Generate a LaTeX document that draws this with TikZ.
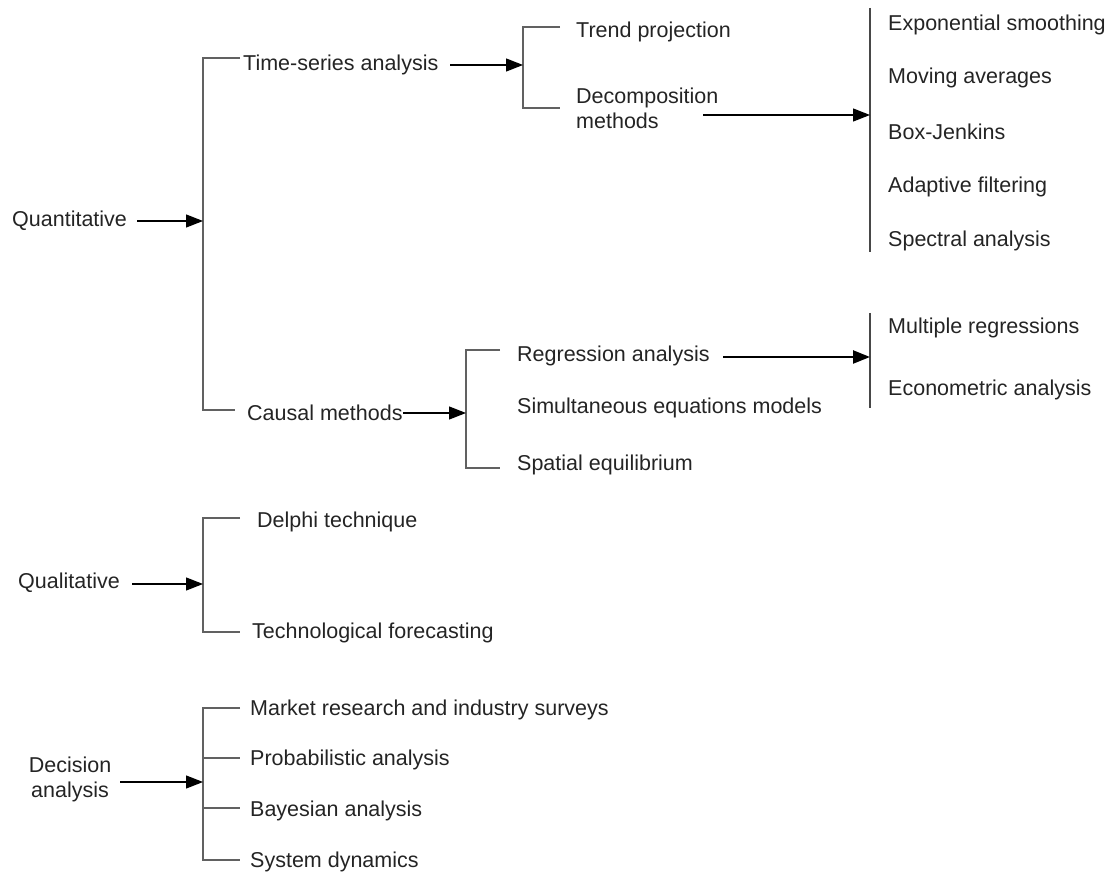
\documentclass[tikz,border=0pt]{standalone}
\usepackage{fontspec}
\setmainfont{Liberation Sans}
\usetikzlibrary{arrows.meta}
\begin{document}
\begin{tikzpicture}[x=1pt,y=-1pt,
  lbl/.style={anchor=west,inner sep=0pt,text=black!86,font=\fontsize{21.5}{25}\selectfont},
  br/.style={draw=black!62,line width=1.4pt},
  arr/.style={draw=black,line width=1.3pt,-{Triangle[length=17pt,width=13pt]}},
  vbar/.style={draw=black!72,line width=1.4pt}]
\useasboundingbox (0,0) rectangle (1117,877);
% ---------- Quantitative ----------
\node[lbl] (quant) at (12,221) {Quantitative};
\coordinate (qa) at (203,58);
\coordinate (qm) at (203,221);
\coordinate (qb) at (203,410);
\coordinate (qat) at (240,58);
\coordinate (qbt) at (235,410);
\draw[br] (qat) -- (qa) -- (qb) -- (qbt);
\draw[arr] ([xshift=10pt]quant.east) -- (qm);
\node[lbl] (tsa) at (243,65) {Time-series analysis};
\node[lbl] (cm) at (247,413) {Causal methods};
% time-series bracket
\coordinate (ta) at (523,27);
\coordinate (tm) at (523,65);
\coordinate (tb) at (523,108);
\coordinate (tat) at (560,27);
\coordinate (tbt) at (560,108);
\draw[br] (tat) -- (ta) -- (tb) -- (tbt);
\draw[arr] (450,65) coordinate (tso) -- (tm);
\node[lbl] (tp) at (576,32) {Trend projection};
\node[lbl,align=left] (dm) at (576,108) {Decomposition\\methods};
% decomposition list
\coordinate (da) at (870,8);
\coordinate (dmid) at (870,115);
\coordinate (db) at (870,252);
\draw[vbar] (da) -- (db);
\draw[arr] (703,115) coordinate (dmo) -- (dmid);
\node[lbl] (es) at (888,25) {Exponential smoothing};
\node[lbl] (ma) at (888,78) {Moving averages};
\node[lbl] (bj) at (888,132) {Box-Jenkins};
\node[lbl] (af) at (888,187) {Adaptive filtering};
\node[lbl] (sa) at (888,241) {Spectral analysis};
% causal bracket
\coordinate (ca) at (466,350);
\coordinate (cmid) at (466,413);
\coordinate (cb) at (466,468);
\coordinate (cat) at (500,350);
\coordinate (cbt) at (500,468);
\draw[br] (cat) -- (ca) -- (cb) -- (cbt);
\draw[arr] (cm.east |- cmid) -- (cmid);
\node[lbl] (ra) at (517,356) {Regression analysis};
\node[lbl] (sem) at (517,408) {Simultaneous equations models};
\node[lbl] (se) at (517,465) {Spatial equilibrium};
% regression list
\coordinate (ra1) at (870,313);
\coordinate (rmid) at (870,357);
\coordinate (ra2) at (870,408);
\draw[vbar] (ra1) -- (ra2);
\draw[arr,line width=2.4pt] (723,357) coordinate (rao) -- (rmid);
\node[lbl] (mr) at (888,328) {Multiple regressions};
\node[lbl] (ea) at (888,390) {Econometric analysis};
% ---------- Qualitative ----------
\node[lbl] (qual) at (18,583) {Qualitative};
\coordinate (la) at (203,518);
\coordinate (lm) at (203,584);
\coordinate (lb) at (203,632);
\coordinate (lat) at (240,518);
\coordinate (lbt) at (240,632);
\draw[br] (lat) -- (la) -- (lb) -- (lbt);
\draw[arr] (132,584) coordinate (qlo) -- (lm);
\node[lbl] (dt) at (257,522) {Delphi technique};
\node[lbl] (tf) at (252,633) {Technological forecasting};
% ---------- Decision analysis ----------
\node[lbl,align=center,anchor=center] (dec) at (70,779) {Decision\\analysis};
\coordinate (ea1) at (203,708);
\coordinate (em) at (203,782);
\coordinate (eb) at (203,860);
\draw[br] (240,708) coordinate (e1t) -- (ea1) -- (eb) -- (240,860) coordinate (e4t);
\draw[br] (203,758) coordinate (e2) -- (240,758) coordinate (e2t);
\draw[br] (203,808) coordinate (e3) -- (240,808) coordinate (e3t);
\draw[arr] (120,782) coordinate (deo) -- (em);
\node[lbl] (mri) at (250,710) {Market research and industry surveys};
\node[lbl] (pa) at (250,760) {Probabilistic analysis};
\node[lbl] (ba) at (250,811) {Bayesian analysis};
\node[lbl] (sd) at (250,862) {System dynamics};
\end{tikzpicture}
\end{document}
